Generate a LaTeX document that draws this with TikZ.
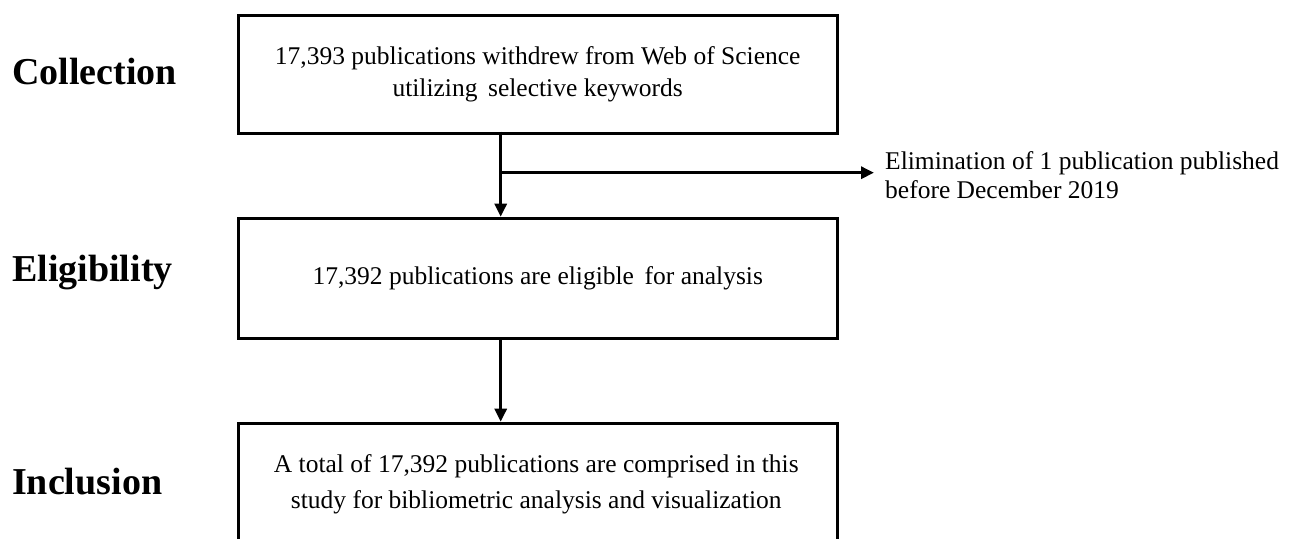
\documentclass[tikz,border=0pt]{standalone}
\usepackage{fontspec}
\setmainfont{Liberation Serif}
\usetikzlibrary{arrows.meta}
\begin{document}
\begin{tikzpicture}[x=1pt,y=1pt,
  boxstyle/.style={draw=black,line width=3pt,minimum width=599pt,align=center,
    font=\fontsize{25.5}{32}\selectfont,inner sep=0pt},
  stagelabel/.style={anchor=west,font=\fontsize{38}{40}\selectfont\bfseries,inner sep=0pt},
  conn/.style={line width=3pt,-{Triangle[width=12pt,length=13pt]}}]
\useasboundingbox (0,0) rectangle (1292,-538);
\clip (0,0) rectangle (1292,-538);
\node[boxstyle,minimum height=117.7pt,anchor=north west] (b1) at (236.7,-14) {17,393 publications withdrew from Web of Science\\utilizing\, selective keywords};
\node[boxstyle,minimum height=120.6pt,anchor=north west] (b2) at (236.7,-216.7) {17,392 publications are eligible\, for analysis};
\node[boxstyle,minimum height=200pt,anchor=north west,text depth=0pt] (b3) at (236.7,-421.7) {};
\node[font=\fontsize{25.5}{36}\selectfont,align=center,inner sep=0pt] (t3) at (536.3,-484) {A total of 17,392 publications are comprised in this\\study for bibliometric analysis and visualization};
\node[stagelabel] (l1) at (12,-72) {Collection};
\node[stagelabel] (l2) at (12,-273) {Eligibility};
\node[stagelabel] (l3) at (12,-482) {Inclusion};
\node[anchor=west,align=left,font=\fontsize{25.5}{29}\selectfont,inner sep=0pt] (ex) at (885,-175) {Elimination of 1 publication published\\before December 2019};
\coordinate (top1) at (500.7,-131.7);
\coordinate (br) at (500.7,-172.7);
\draw[conn] (top1) -- (b2.north -| top1);
\draw[conn] (br) -- ([xshift=-11pt]ex.west |- br);
\draw[conn] (b2.south -| top1) -- (b3.north -| top1);
\end{tikzpicture}
\end{document}
